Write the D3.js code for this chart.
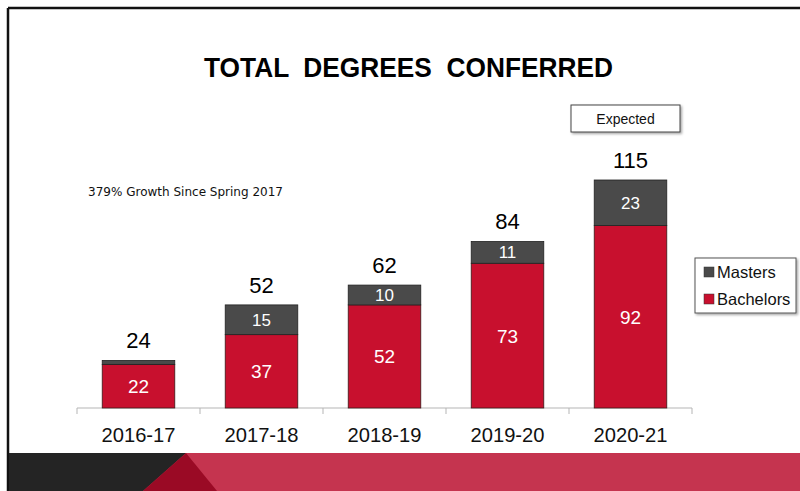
<!DOCTYPE html>
<html>
<head>
<meta charset="utf-8">
<script src="https://cdn.jsdelivr.net/npm/d3@7"></script>
<style>
  html, body { margin: 0; padding: 0; background: #fff; }
  svg { display: block; }
</style>
</head>
<body>
<div id="chart"></div>
<script>
// data
var years = ["2016-17", "2017-18", "2018-19", "2019-20", "2020-21"];
var bachelors = [22, 37, 52, 73, 92];
var masters = [2, 15, 10, 11, 23];
var totals = [24, 52, 62, 84, 115];
var seriesNames = ["Masters", "Bachelors"];
var seriesColors = ["#4a4a4a", "#c8102e"];

var width = 800, height = 491;

var svg = d3.select("#chart")
    .append("svg")
    .attr("width", width)
    .attr("height", height);

// slide frame
svg.append("rect")
    .attr("x", 0).attr("y", 0)
    .attr("width", width).attr("height", height)
    .attr("fill", "#fff");
svg.append("line")
    .attr("x1", 8).attr("y1", 8).attr("x2", width).attr("y2", 8)
    .attr("stroke", "#111").attr("stroke-width", 2.5);
svg.append("line")
    .attr("x1", 8).attr("y1", 8).attr("x2", 8).attr("y2", height)
    .attr("stroke", "#111").attr("stroke-width", 2.5);

// footer band
svg.append("rect")
    .attr("x", 9).attr("y", 453)
    .attr("width", width - 9).attr("height", height - 453)
    .attr("fill", "#c5344f");
svg.append("polygon")
    .attr("points", "9,453 186,453 143,491 9,491")
    .attr("fill", "#242424");
svg.append("polygon")
    .attr("points", "186,453 217,491 143,491")
    .attr("fill", "#9a0a25");

// title (condensed look via textLength)
svg.append("text")
    .attr("x", 204).attr("y", 77)
    .attr("font-family", "'Liberation Sans', Arial, sans-serif")
    .attr("font-weight", "bold")
    .attr("font-size", 28)
    .attr("textLength", 409)
    .attr("lengthAdjust", "spacingAndGlyphs")
    .attr("fill", "#000")
    .text("TOTAL  DEGREES  CONFERRED")
    .style("white-space", "pre");

svg.append("text")
    .attr("x", 88).attr("y", 196)
    .attr("font-family", "'DejaVu Sans', Verdana, sans-serif")
    .attr("font-size", 12)
    .attr("textLength", 195)
    .attr("lengthAdjust", "spacingAndGlyphs")
    .attr("fill", "#111")
    .text("379% Growth Since Spring 2017");

// scales
var x = d3.scaleBand()
    .domain(years)
    .range([77, 692])
    .padding(0);

var y = d3.scaleLinear()
    .domain([0, 115])
    .range([408, 180]);

var barW = x.bandwidth() * 0.59;

// axis line with ticks at band edges
var axisColor = "#b5b5b5";
svg.append("line")
    .attr("x1", x.range()[0]).attr("x2", x.range()[1])
    .attr("y1", y(0)).attr("y2", y(0))
    .attr("stroke", axisColor).attr("stroke-width", 1);
var edges = years.map(function(d) { return x(d); }).concat([x.range()[1]]);
svg.selectAll(".tick")
    .data(edges)
    .enter().append("line")
    .attr("class", "tick")
    .attr("x1", function(d) { return d; })
    .attr("x2", function(d) { return d; })
    .attr("y1", y(0)).attr("y2", y(0) + 6)
    .attr("stroke", axisColor);

svg.selectAll(".cat")
    .data(years)
    .enter().append("text")
    .attr("class", "cat")
    .attr("x", function(d) { return x(d) + x.bandwidth() / 2 - 37; })
    .attr("y", 442)
    .attr("font-family", "'Liberation Sans', Arial, sans-serif")
    .attr("font-size", 21)
    .attr("textLength", 74)
    .attr("lengthAdjust", "spacingAndGlyphs")
    .attr("fill", "#111")
    .text(function(d) { return d; });

// stacked bars
for (i = 0; i < years.length; i++) {
    var cx = x(years[i]) + x.bandwidth() / 2;
    var b = bachelors[i], m = masters[i];

    svg.append("rect")
        .attr("x", cx - barW / 2)
        .attr("y", y(b))
        .attr("width", barW)
        .attr("height", y(0) - y(b))
        .attr("fill", seriesColors[1])
        .attr("stroke", "#3a1a1a").attr("stroke-width", 0.8);

    svg.append("rect")
        .attr("x", cx - barW / 2)
        .attr("y", y(b + m))
        .attr("width", barW)
        .attr("height", y(b) - y(b + m))
        .attr("fill", seriesColors[0])
        .attr("stroke", "#222").attr("stroke-width", 0.8);

    svg.append("text")
        .attr("x", cx)
        .attr("y", (y(0) + y(b)) / 2 + 7)
        .attr("text-anchor", "middle")
        .attr("font-family", "'Liberation Sans', Arial, sans-serif")
        .attr("font-size", 19)
        .attr("fill", "#fff")
        .text(b);

    if (y(b) - y(b + m) > 14) {
        svg.append("text")
            .attr("x", cx)
            .attr("y", (y(b) + y(b + m)) / 2 + 6)
            .attr("text-anchor", "middle")
            .attr("font-family", "'Liberation Sans', Arial, sans-serif")
            .attr("font-size", 17)
            .attr("fill", "#fff")
            .text(m);
    }

    svg.append("text")
        .attr("x", cx)
        .attr("y", y(totals[i]) - 12)
        .attr("text-anchor", "middle")
        .attr("font-family", "'Liberation Sans', Arial, sans-serif")
        .attr("font-size", 22)
        .attr("fill", "#000")
        .text(totals[i]);
}

// "Expected" callout over the last bar
var shadow = svg.append("defs").append("filter")
    .attr("id", "shadow").attr("x", "-10%").attr("y", "-10%")
    .attr("width", "130%").attr("height", "150%");
shadow.append("feDropShadow")
    .attr("dx", 1.5).attr("dy", 1.5).attr("stdDeviation", 1)
    .attr("flood-color", "#000").attr("flood-opacity", 0.35);

svg.append("rect")
    .attr("x", 571).attr("y", 105)
    .attr("width", 109).attr("height", 27)
    .attr("fill", "#fff")
    .attr("stroke", "#444").attr("stroke-width", 1)
    .attr("filter", "url(#shadow)");
svg.append("text")
    .attr("x", 625.5).attr("y", 124)
    .attr("text-anchor", "middle")
    .attr("font-family", "'Liberation Sans', Arial, sans-serif")
    .attr("font-size", 14)
    .attr("fill", "#111")
    .text("Expected");

// legend
svg.append("rect")
    .attr("x", 695).attr("y", 258)
    .attr("width", 101).attr("height", 55)
    .attr("fill", "#fff")
    .attr("stroke", "#555").attr("stroke-width", 1)
    .attr("filter", "url(#shadow)");
var legend = svg.selectAll(".legend")
    .data(seriesNames)
    .enter().append("g")
    .attr("class", "legend")
    .attr("transform", function(d, k) { return "translate(704," + (272 + k * 27) + ")"; });
legend.append("rect")
    .attr("x", 0).attr("y", -5)
    .attr("width", 10).attr("height", 10)
    .attr("fill", function(d, k) { return seriesColors[k]; })
    .attr("stroke", "#333").attr("stroke-width", 0.5);
legend.append("text")
    .attr("x", 13).attr("y", 6)
    .attr("font-family", "'Liberation Sans', Arial, sans-serif")
    .attr("font-size", 16.5)
    .attr("fill", "#111")
    .text(function(d) { return d; });
</script>
</body>
</html>
